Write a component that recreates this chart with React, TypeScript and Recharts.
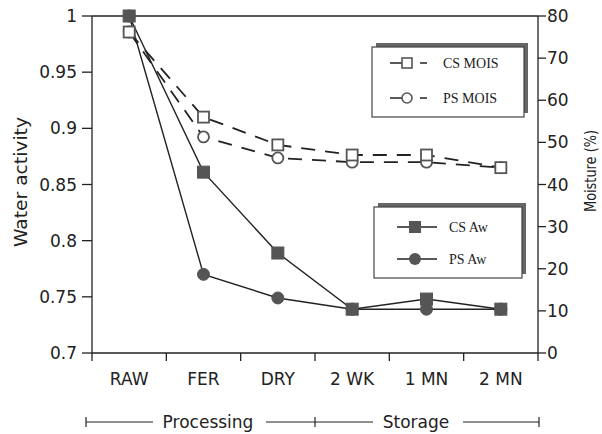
import { ComposedChart, Line, XAxis, YAxis, ReferenceLine } from 'recharts';

const CATEGORIES = ['RAW', 'FER', 'DRY', '2 WK', '1 MN', '2 MN'];
const CS_AW = [1.0, 0.861, 0.789, 0.739, 0.748, 0.739];
const PS_AW = [1.0, 0.77, 0.749, 0.739, 0.739, 0.739];
const CS_MOIS = [76.2, 56, 49.4, 47, 47, 44];
const PS_MOIS = [76.2, 51.3, 46.3, 45.3, 45.3, 44];
const AW_TICKS = [0.7, 0.75, 0.8, 0.85, 0.9, 0.95, 1];
const MOIS_TICKS = [0, 10, 20, 30, 40, 50, 60, 70, 80];

const W = 602;
const H = 434;
const LEFT_W = 92;
const RIGHT_W = 64;
const TOP = 16;
const X_H = 81;
const HALF_BAND = (W - LEFT_W - RIGHT_W) / CATEGORIES.length / 2;

const INK = '#222';
const MARK = '#555';
const SANS = '"DejaVu Sans", sans-serif';
const SERIF = '"Liberation Serif", serif';

const rows = CATEGORIES.map((cat, i) => ({
  i,
  cat,
  csAw: CS_AW[i],
  psAw: PS_AW[i],
  csMois: CS_MOIS[i],
  psMois: PS_MOIS[i],
}));

const xTicks = CATEGORIES.map((_, i) => i - 0.5).concat(CATEGORIES.length - 0.5);

function XTick(props: any) {
  const { x, y, payload } = props;
  const idx = Math.round(payload.value + 0.5);
  if (idx >= CATEGORIES.length) return null;
  return (
    <text x={x + HALF_BAND} y={y + 22} textAnchor="middle" fontSize={17} fontFamily={SANS} fill={INK}>
      {CATEGORIES[idx]}
    </text>
  );
}

const filledSquare = (p: any) => (
  <rect key={`fs${p.index}`} x={p.cx - 6} y={p.cy - 6} width={12} height={12} fill={MARK} stroke={MARK} />
);
const filledCircle = (p: any) => (
  <circle key={`fc${p.index}`} cx={p.cx} cy={p.cy} r={6} fill={MARK} stroke={MARK} />
);
const openSquare = (p: any) => (
  <rect key={`os${p.index}`} x={p.cx - 5.5} y={p.cy - 5.5} width={11} height={11} fill="#fff" stroke={MARK} strokeWidth={1.8} />
);
const openCircle = (p: any) => (
  <circle key={`oc${p.index}`} cx={p.cx} cy={p.cy} r={5.5} fill="#fff" stroke={MARK} strokeWidth={1.8} />
);

function LegendBox({ x, y, w, h }: { x: number; y: number; w: number; h: number }) {
  return (
    <g>
      <rect x={x + 4} y={y - 4} width={w} height={h} fill="#666" />
      <rect x={x} y={y} width={w} height={h} fill="#fff" stroke="#444" strokeWidth={1.2} />
    </g>
  );
}

function Overlay() {
  const bracketY = 422;
  return (
    <svg width={W} height={H} style={{ position: 'absolute', left: 0, top: 0, pointerEvents: 'none' }}>
      {/* axis titles */}
      <text
        transform="translate(27,182) rotate(-90)"
        textAnchor="middle"
        fontSize={17}
        fontFamily={SANS}
        fill={INK}
        textLength={130}
        lengthAdjust="spacingAndGlyphs"
      >
        Water activity
      </text>
      <text
        transform="translate(596,171) rotate(-90)"
        textAnchor="middle"
        fontSize={16}
        fontFamily={SANS}
        fill={INK}
        textLength={82}
        lengthAdjust="spacingAndGlyphs"
      >
        Moisture (%)
      </text>

      {/* moisture legend */}
      <LegendBox x={372} y={47} w={152} h={70} />
      <line x1={390} x2={402} y1={63} y2={63} stroke={INK} strokeWidth={1.5} />
      <rect x={402} y={58} width={10} height={10} fill="#fff" stroke={MARK} strokeWidth={1.6} />
      <line x1={420} x2={427} y1={63} y2={63} stroke={INK} strokeWidth={1.5} />
      <text x={443} y={68} fontSize={14} fontFamily={SERIF} fill={INK}>CS MOIS</text>
      <line x1={390} x2={402} y1={98} y2={98} stroke={INK} strokeWidth={1.5} />
      <circle cx={407} cy={98} r={5} fill="#fff" stroke={MARK} strokeWidth={1.6} />
      <line x1={420} x2={427} y1={98} y2={98} stroke={INK} strokeWidth={1.5} />
      <text x={443} y={103} fontSize={14} fontFamily={SERIF} fill={INK}>PS MOIS</text>

      {/* water activity legend */}
      <LegendBox x={374} y={207} w={148} h={71} />
      <line x1={397} x2={437} y1={227} y2={227} stroke={INK} strokeWidth={1.3} />
      <rect x={409} y={221} width={12} height={12} fill={MARK} />
      <text x={449} y={232} fontSize={14} fontFamily={SERIF} fill={INK}>CS Aw</text>
      <line x1={397} x2={437} y1={259} y2={259} stroke={INK} strokeWidth={1.3} />
      <circle cx={415} cy={259} r={6} fill={MARK} />
      <text x={449} y={264} fontSize={14} fontFamily={SERIF} fill={INK}>PS Aw</text>

      {/* phase bracket */}
      <g stroke={INK} strokeWidth={1.2}>
        <line x1={86} x2={86} y1={bracketY - 5} y2={bracketY + 5} />
        <line x1={86} x2={153} y1={bracketY} y2={bracketY} />
        <line x1={266} x2={373} y1={bracketY} y2={bracketY} />
        <line x1={315} x2={315} y1={bracketY - 5} y2={bracketY + 5} />
        <line x1={463} x2={539} y1={bracketY} y2={bracketY} />
        <line x1={539} x2={539} y1={bracketY - 5} y2={bracketY + 5} />
      </g>
      <text x={208} y={bracketY + 6} textAnchor="middle" fontSize={17} fontFamily={SANS} fill={INK}>Processing</text>
      <text x={416} y={bracketY + 6} textAnchor="middle" fontSize={17} fontFamily={SANS} fill={INK}>Storage</text>
    </svg>
  );
}

export default function App() {
  return (
    <div style={{ position: 'absolute', left: 0, top: 0, width: W, height: H, background: '#fff' }}>
      <ComposedChart width={W} height={H} data={rows} margin={{ top: TOP, right: 0, bottom: 0, left: 0 }}>
        <XAxis
          dataKey="i"
          type="number"
          domain={[-0.5, CATEGORIES.length - 0.5]}
          ticks={xTicks}
          interval={0}
          height={X_H}
          tickSize={8}
          tickMargin={2}
          tick={<XTick />}
          stroke={INK}
          strokeWidth={1.3}
        />
        <YAxis
          yAxisId="aw"
          orientation="left"
          width={LEFT_W}
          domain={[0.7, 1]}
          ticks={AW_TICKS}
          interval={0}
          tickSize={10}
          tickMargin={5}
          stroke={INK}
          strokeWidth={1.3}
          tick={{ fontSize: 17, fontFamily: SANS, fill: INK }}
        />
        <YAxis
          yAxisId="mois"
          orientation="right"
          width={RIGHT_W}
          domain={[0, 80]}
          ticks={MOIS_TICKS}
          interval={0}
          tickSize={8}
          tickMargin={1}
          stroke={INK}
          strokeWidth={1.3}
          tick={{ fontSize: 17, fontFamily: SANS, fill: INK }}
        />
        <ReferenceLine yAxisId="aw" y={1} stroke={INK} strokeWidth={1.3} />
        <Line
          yAxisId="mois"
          dataKey="psMois"
          stroke={INK}
          strokeWidth={1.8}
          strokeDasharray="14 10"
          dot={openCircle}
          isAnimationActive={false}
        />
        <Line
          yAxisId="mois"
          dataKey="csMois"
          stroke={INK}
          strokeWidth={1.8}
          strokeDasharray="14 10"
          dot={openSquare}
          isAnimationActive={false}
        />
        <Line
          yAxisId="aw"
          dataKey="psAw"
          stroke={INK}
          strokeWidth={1.4}
          dot={filledCircle}
          isAnimationActive={false}
        />
        <Line
          yAxisId="aw"
          dataKey="csAw"
          stroke={INK}
          strokeWidth={1.4}
          dot={filledSquare}
          isAnimationActive={false}
        />
      </ComposedChart>
      <Overlay />
    </div>
  );
}
